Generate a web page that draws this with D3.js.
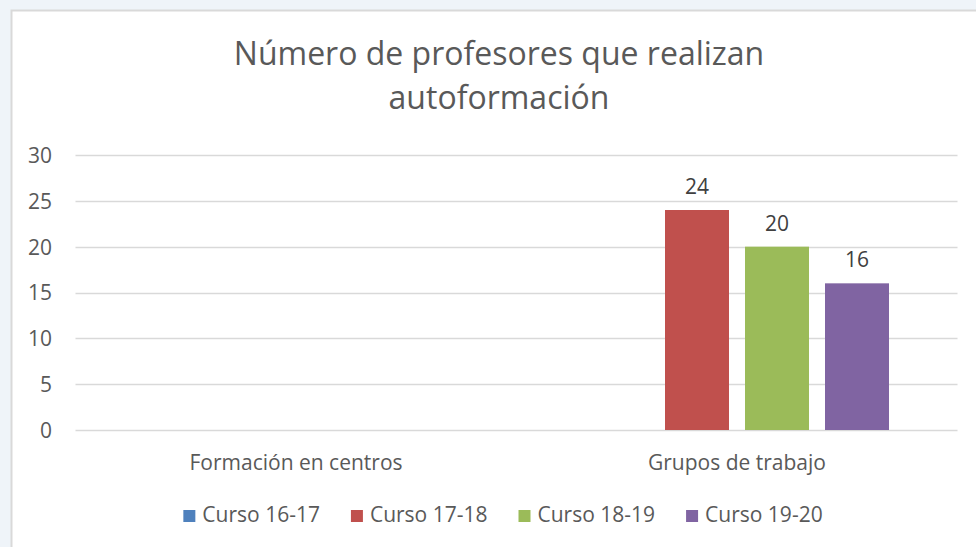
<!DOCTYPE html>
<html>
<head>
<meta charset="utf-8">
<script src="https://cdn.jsdelivr.net/npm/d3@7"></script>
<style>
  body { margin: 0; background: #eff4f9; }
  svg { display: block; }
  text { font-family: "Open Sans", sans-serif; }
</style>
</head>
<body>
<svg width="976" height="547"></svg>
<script>
// data
var categories = ["Formación en centros", "Grupos de trabajo"];
var seriesNames = ["Curso 16-17", "Curso 17-18", "Curso 18-19", "Curso 19-20"];
var seriesColors = ["#4f81bd", "#c0504d", "#9bbb59", "#8064a2"];
// null = no value in the source sheet
var curso1617 = [null, null];
var curso1718 = [null, 24];
var curso1819 = [null, 20];
var curso1920 = [null, 16];
var yTicks = [0, 5, 10, 15, 20, 25, 30];
var titleLines = ["Número de profesores que realizan", "autoformación"];

var values = [curso1617, curso1718, curso1819, curso1920];

var svg = d3.select("svg");

// white chart area with grey frame
svg.append("rect")
  .attr("x", 11.5).attr("y", 10.5)
  .attr("width", 980).attr("height", 560)
  .attr("fill", "#fff")
  .attr("stroke", "#d9d9d9")
  .attr("stroke-width", 2);

var plot = { left: 75.5, right: 957.5, top: 155, bottom: 430 };

var x0 = d3.scaleBand()
  .domain(categories)
  .range([plot.left, plot.right]);

var x1 = d3.scaleBand()
  .domain(seriesNames)
  .range([68.5, x0.bandwidth() - 68.5])
  .paddingInner(0.2);

var y = d3.scaleLinear()
  .domain([0, 30])
  .range([plot.bottom, plot.top]);

// gridlines
svg.append("g").selectAll("line")
  .data(yTicks)
  .join("line")
    .attr("x1", plot.left).attr("x2", plot.right)
    .attr("y1", function(d) { return Math.round(y(d)) + 0.5; })
    .attr("y2", function(d) { return Math.round(y(d)) + 0.5; })
    .attr("stroke", "#d9d9d9")
    .attr("stroke-width", 1.5);

// y axis labels
var yAxis = d3.axisLeft(y).tickValues(yTicks).tickSize(0).tickPadding(0);
var ya = svg.append("g")
  .attr("transform", "translate(52,0)")
  .call(yAxis);
ya.select(".domain").remove();
ya.selectAll("text")
  .attr("font-size", 21)
  .attr("fill", "#595959")
  .attr("dy", "0.35em")
  .style("font-family", "'Open Sans', sans-serif");

// x axis labels
var xAxis = d3.axisBottom(x0).tickSize(0).tickPadding(0);
var xa = svg.append("g")
  .attr("transform", "translate(0,455)")
  .call(xAxis);
xa.select(".domain").remove();
xa.selectAll("text")
  .attr("font-size", 21)
  .attr("fill", "#595959")
  .attr("dy", "0.71em")
  .style("font-family", "'Open Sans', sans-serif");

// bars
var flat = [];
categories.forEach(function(c, ci) {
  seriesNames.forEach(function(s, si) {
    var v = values[si][ci];
    if (v != null) flat.push({ cat: c, series: s, value: v, color: seriesColors[si] });
  });
});

var bars = svg.append("g").selectAll("g")
  .data(flat)
  .join("g")
    .attr("transform", function(d) { return "translate(" + (x0(d.cat) + x1(d.series)) + ",0)"; });

bars.append("rect")
  .attr("x", 0)
  .attr("y", function(d) { return y(d.value); })
  .attr("width", x1.bandwidth())
  .attr("height", function(d) { return y(0) - y(d.value); })
  .attr("fill", function(d) { return d.color; });

bars.append("text")
  .attr("x", x1.bandwidth() / 2)
  .attr("y", function(d) { return y(d.value) - 16; })
  .attr("text-anchor", "middle")
  .attr("font-size", 21)
  .attr("fill", "#404040")
  .text(function(d) { return d.value; });

// title
svg.append("g").selectAll("text")
  .data(titleLines)
  .join("text")
    .attr("x", 499)
    .attr("y", function(d, i) { return 65 + i * 44; })
    .attr("text-anchor", "middle")
    .attr("font-size", 32)
    .attr("fill", "#595959")
    .text(function(d) { return d; });

// legend
var leg = svg.append("g");
var items = leg.selectAll("g")
  .data(seriesNames)
  .join("g");
items.append("rect")
  .attr("width", 12).attr("height", 12)
  .attr("y", -12)
  .attr("fill", function(d, i) { return seriesColors[i]; });
items.append("text")
  .attr("x", 19)
  .attr("font-size", 21)
  .attr("fill", "#595959")
  .text(function(d) { return d; });

var xpos = 0;
items.each(function() {
  var w = this.getBBox().width;
  d3.select(this).attr("transform", "translate(" + xpos + ",0)");
  xpos += w + 31;
});
var total = xpos - 31;
leg.attr("transform", "translate(" + (503 - total / 2) + ",522)");
</script>
</body>
</html>
